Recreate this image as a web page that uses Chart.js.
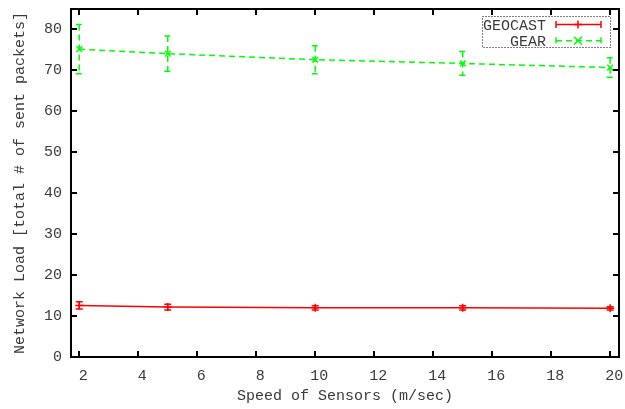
<!DOCTYPE html>
<html>
<head>
<meta charset="utf-8">
<script src="https://cdn.jsdelivr.net/npm/chart.js@4/dist/chart.umd.min.js"></script>
<style>
    html, body { margin: 0; padding: 0; background: #fff; }
    #wrap { width: 625px; height: 409px; }
</style>
</head>
<body>
<div id="wrap"><canvas id="loadChart" width="625" height="409"></canvas></div>
<script>
// valores
const speeds = [2, 5, 10, 15, 20];
const geocastLoad = [12.6, 12.2, 12.0, 12.0, 11.9];
const geocastErr = [0.9, 0.7, 0.5, 0.5, 0.4];
const gearLoad = [75.2, 74.1, 72.6, 71.7, 70.7];
const gearErr = [6.0, 4.3, 3.4, 2.9, 2.4];
const xTicks = [2, 4, 6, 8, 10, 12, 14, 16, 18, 20];
const yTicks = [0, 10, 20, 30, 40, 50, 60, 70, 80];
const seriesNames = ['GEOCAST', 'GEAR'];

const FONT = "'Liberation Mono', 'DejaVu Sans Mono', monospace";
const TEXT = '#3a3a3a';

function toPoints(xs, ys) {
    return xs.map((x, i) => ({ x: x, y: ys[i] }));
}

// barras de erro, desenhadas pelas escalas
const errorBars = {
    id: 'errorBars',
    afterDatasetsDraw(chart) {
        const { ctx, scales: { x, y } } = chart;
        const errs = [geocastErr, gearErr];
        chart.data.datasets.forEach((ds, i) => {
            ctx.save();
            ctx.strokeStyle = ds.borderColor;
            ctx.lineWidth = 1.5;
            ctx.setLineDash(ds.borderDash || []);
            ds.data.forEach((p, j) => {
                const px = x.getPixelForValue(p.x);
                const top = y.getPixelForValue(p.y + errs[i][j]);
                const bot = y.getPixelForValue(p.y - errs[i][j]);
                ctx.beginPath();
                ctx.moveTo(px, top); ctx.lineTo(px, bot);
                ctx.moveTo(px - 3.5, top); ctx.lineTo(px + 3.5, top);
                ctx.moveTo(px - 3.5, bot); ctx.lineTo(px + 3.5, bot);
                ctx.stroke();
            });
            ctx.restore();
        });
    }
};

// moldura estilo gnuplot com ticks para dentro
const frame = {
    id: 'frame',
    afterDraw(chart) {
        const { ctx, chartArea: a, scales: { x, y } } = chart;
        ctx.save();
        ctx.strokeStyle = '#000';
        ctx.lineWidth = 2;
        ctx.setLineDash([]);
        ctx.strokeRect(a.left, a.top, a.right - a.left, a.bottom - a.top);
        ctx.beginPath();
        xTicks.forEach(v => {
            const px = Math.round(x.getPixelForValue(v));
            ctx.moveTo(px, a.bottom); ctx.lineTo(px, a.bottom - 6);
            ctx.moveTo(px, a.top); ctx.lineTo(px, a.top + 6);
        });
        yTicks.forEach(v => {
            const py = Math.round(y.getPixelForValue(v));
            ctx.moveTo(a.left, py); ctx.lineTo(a.left + 6, py);
            ctx.moveTo(a.right, py); ctx.lineTo(a.right - 6, py);
        });
        ctx.stroke();
        ctx.restore();
    }
};

// legenda no canto superior direito
const gnuLegend = {
    id: 'gnuLegend',
    afterDraw(chart) {
        const { ctx } = chart;
        ctx.save();
        ctx.strokeStyle = '#000';
        ctx.lineWidth = 1;
        ctx.setLineDash([1, 2]);
        ctx.strokeRect(482.5, 16.5, 128, 31);
        ctx.font = '15px ' + FONT;
        ctx.fillStyle = TEXT;
        ctx.textAlign = 'right';
        ctx.textBaseline = 'middle';
        chart.data.datasets.forEach((ds, i) => {
            const ly = 24.5 + i * 16.3;
            ctx.fillText(seriesNames[i], 546, ly + 1.5);
            ctx.strokeStyle = ds.borderColor;
            ctx.lineWidth = 1.5;
            ctx.setLineDash(ds.borderDash || []);
            ctx.beginPath();
            ctx.moveTo(556, ly); ctx.lineTo(601, ly);
            ctx.moveTo(556, ly - 3.5); ctx.lineTo(556, ly + 3.5);
            ctx.moveTo(601, ly - 3.5); ctx.lineTo(601, ly + 3.5);
            ctx.stroke();
            ctx.setLineDash([]);
            ctx.beginPath();
            if (i === 0) {
                ctx.moveTo(578, ly - 4); ctx.lineTo(578, ly + 4);
                ctx.moveTo(574, ly); ctx.lineTo(582, ly);
            } else {
                ctx.moveTo(574, ly - 4); ctx.lineTo(582, ly + 4);
                ctx.moveTo(574, ly + 4); ctx.lineTo(582, ly - 4);
            }
            ctx.stroke();
        });
        ctx.restore();
    }
};

const ctx = document.getElementById('loadChart').getContext('2d');
new Chart(ctx, {
    type: 'line',
    data: {
        datasets: [{
            label: seriesNames[0],
            data: toPoints(speeds, geocastLoad),
            borderColor: '#ff0000',
            backgroundColor: '#ff0000',
            borderWidth: 1.5,
            pointStyle: 'cross',
            pointRadius: 4,
            pointBorderWidth: 1.5,
            tension: 0,
            fill: false
        }, {
            label: seriesNames[1],
            data: toPoints(speeds, gearLoad),
            borderColor: '#00ff00',
            backgroundColor: '#00ff00',
            borderWidth: 1.5,
            borderDash: [6, 4],
            pointStyle: 'crossRot',
            pointRadius: 4,
            pointBorderWidth: 1.5,
            tension: 0,
            fill: false
        }]
    },
    options: {
        responsive: false,
        animation: false,
        devicePixelRatio: 1,
        layout: { autoPadding: false, padding: { top: 9, right: 6, left: 0, bottom: 0 } },
        plugins: {
            legend: { display: false },
            tooltip: { enabled: false }
        },
        scales: {
            x: {
                type: 'linear',
                min: 1.72,
                max: 20.3,
                afterBuildTicks: s => { s.ticks = xTicks.map(v => ({ value: v })); },
                afterFit: s => { s.height = 52; s.paddingLeft = 0; s.paddingRight = 0; },
                grid: { display: false, drawTicks: false },
                border: { display: false },
                ticks: { color: TEXT, padding: 10, labelOffset: 4, maxRotation: 0, font: { family: FONT, size: 15 } },
                title: {
                    display: true,
                    text: 'Speed of Sensors (m/sec)',
                    color: TEXT,
                    padding: { top: 0, bottom: 4 },
                    font: { family: FONT, size: 15 }
                }
            },
            y: {
                min: 0,
                max: 85,
                afterBuildTicks: s => { s.ticks = yTicks.map(v => ({ value: v })); },
                afterFit: s => { s.width = 71; s.paddingTop = 0; s.paddingBottom = 0; },
                grid: { display: false, drawTicks: false },
                border: { display: false },
                ticks: { color: TEXT, padding: 9, font: { family: FONT, size: 15 } },
                title: {
                    display: true,
                    text: 'Network Load [total # of sent packets]',
                    color: TEXT,
                    padding: { top: 11, bottom: 0 },
                    font: { family: FONT, size: 15 }
                }
            }
        }
    },
    plugins: [errorBars, frame, gnuLegend]
});
</script>
</body>
</html>
